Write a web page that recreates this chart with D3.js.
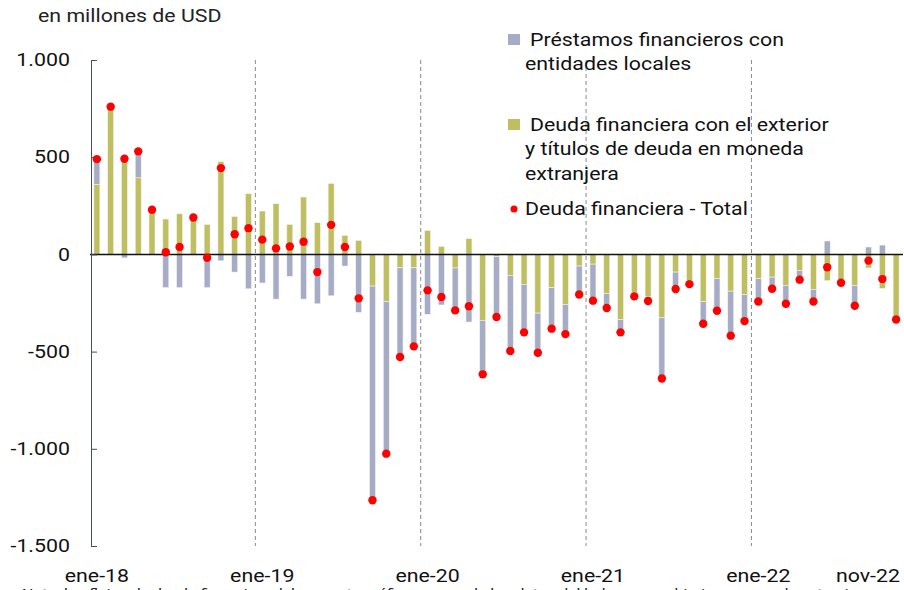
<!DOCTYPE html>
<html lang="es">
<head>
<meta charset="UTF-8">
<script src="https://d3js.org/d3.v7.min.js"></script>
<style>
  body { margin: 0; background: #fff; }
  svg { font-family: Roboto, "Noto Sans", sans-serif; }
</style>
<title>Deuda financiera</title>
</head>
<body>
<div id="chart"></div>
<script>
const width = 904, height = 590;

// months ene-18 .. nov-22
const monthNames = ["ene","feb","mar","abr","may","jun","jul","ago","sep","oct","nov","dic"];
const months = [];
for (const yy of ["18","19","20","21","22"]) {
  for (const m of monthNames) {
    if (yy === "22" && m === "dic") break;
    months.push(m + "-" + yy);
  }
}

// Préstamos financieros con entidades locales
const prestamos = [
  130, 0, -18, 135, 0, -171, -171, -3, -171, -33, -91, -177,
  -147, -230, -113, -230, -254, -213, -60, -298, -1102, -783, -459, -404,
  -308, -260, -218, -348, -278, -310, -389, -247, -204, -211, -153, -146,
  -188, -74, -65, -17, -24, -312, -87, -19, -114, -165, -229, -137,
  -117, -60, -95, -48, -62, 69, -16, -105, 38, 48, -5
];
// Deuda financiera con el exterior y títulos de deuda en moneda extranjera
const exterior = [
  360, 760, 510, 394, 230, 182, 209, 193, 154, 477, 195, 312,
  223, 261, 154, 295, 163, 365, 98, 72, -163, -242, -69, -69,
  123, 41, -70, 81, -339, -12, -108, -154, -302, -171, -257, -60,
  -50, -202, -336, -199, -216, -326, -91, -134, -243, -125, -189, -206,
  -125, -117, -159, -82, -180, -135, -130, -159, -70, -175, -330
];
// Deuda financiera - Total
const total = [
  490, 760, 492, 530, 230, 11, 38, 190, -17, 444, 104, 135,
  76, 31, 41, 65, -91, 152, 38, -226, -1265, -1025, -528, -473,
  -185, -219, -288, -267, -617, -322, -497, -401, -506, -382, -410, -206,
  -238, -276, -401, -216, -240, -638, -178, -153, -357, -290, -418, -343,
  -242, -177, -254, -130, -242, -66, -146, -264, -32, -127, -335
];

const yTicks = [1000, 500, 0, -500, -1000, -1500];
const xTickLabels = ["ene-18", "ene-19", "ene-20", "ene-21", "ene-22", "nov-22"];
const yearStarts = ["ene-19", "ene-20", "ene-21", "ene-22"];

const colPrestamos = "#a6abc6";
const colExterior = "#bfbf62";
const colTotal = "#ff0000";

// the source text is drawn a bit wide
const sx = 1.22;
function stretch(sel) {
  sel.each(function() {
    const t = d3.select(this);
    const tx = +t.attr("x") || 0, ty = +t.attr("y") || 0;
    t.attr("transform", `translate(${tx},${ty}) scale(${sx},1)`).attr("x", 0).attr("y", 0);
  });
}

const svg = d3.select("#chart").append("svg")
  .attr("width", width).attr("height", height);

const x = d3.scaleBand().domain(months).range([90, 903]).padding(0);
const y = d3.scaleLinear().domain([-1500, 1000]).range([546, 60]);

const locale = d3.formatLocale({decimal: ",", thousands: ".", grouping: [3], currency: ["", ""], minus: "-"});
const fmt = locale.format(",d");

// y axis title
svg.append("text").attr("x", 38).attr("y", 22)
  .style("font-size", "17.5px").attr("fill", "#222")
  .text("en millones de USD")
  .call(stretch);

// dashed year separators
svg.selectAll(".sep").data(yearStarts).enter().append("line")
  .attr("x1", d => x(d)).attr("x2", d => x(d))
  .attr("y1", y(1000)).attr("y2", y(-1500))
  .attr("stroke", "#8a8a8a").attr("stroke-width", 1)
  .attr("stroke-dasharray", "4,3");

// stacked bars
const rows = months.map((m, i) => ({month: m, exterior: exterior[i], prestamos: prestamos[i]}));
const series = d3.stack().keys(["exterior", "prestamos"])
  .offset(d3.stackOffsetDiverging)(rows);
const colors = {exterior: colExterior, prestamos: colPrestamos};
const barW = 6;

svg.selectAll(".series").data(series).enter().append("g")
  .attr("fill", d => colors[d.key])
  .selectAll("rect").data(d => d).enter().append("rect")
  .attr("x", d => x(d.data.month) + x.bandwidth() / 2 - barW / 2)
  .attr("width", barW)
  .attr("y", d => y(Math.max(d[0], d[1])))
  .attr("height", d => Math.abs(y(d[0]) - y(d[1])))
  .attr("stroke", "#f4f4ee").attr("stroke-width", 0.6);

// zero line
svg.append("line")
  .attr("x1", 90).attr("x2", 903)
  .attr("y1", y(0)).attr("y2", y(0))
  .attr("stroke", "#111").attr("stroke-width", 1.5);

// y axis
const yAxis = svg.append("g").attr("transform", "translate(91,0)")
  .call(d3.axisLeft(y).tickValues(yTicks).tickFormat(fmt)
    .tickSizeInner(-6).tickSizeOuter(0).tickPadding(21));
yAxis.select(".domain").attr("stroke", "#44505e");
yAxis.selectAll(".tick line").attr("stroke", "#44505e");
yAxis.selectAll("text").style("font-size", "17.5px").attr("fill", "#111")
  .style("font-family", "Roboto, sans-serif")
  .call(stretch);

// total dots
svg.selectAll(".dot").data(total).enter().append("circle")
  .attr("cx", (d, i) => x(months[i]) + x.bandwidth() / 2)
  .attr("cy", d => y(d))
  .attr("r", 4.2)
  .attr("fill", colTotal);

// x labels
svg.selectAll(".xlab").data(xTickLabels).enter().append("text")
  .attr("x", d => d === "nov-22" ? 900 : x(d) + x.bandwidth() / 2)
  .attr("y", 582)
  .attr("text-anchor", d => d === "nov-22" ? "end" : "middle")
  .style("font-size", "17.5px").attr("fill", "#111")
  .text(d => d)
  .call(stretch);

// note (cut off at bottom, as in the source)
svg.append("text").attr("x", 22).attr("y", 598)
  .style("font-size", "13px").attr("fill", "#222")
  .text("Nota: los flujos de deuda financiera del presente gráfico surgen de los datos del balance cambiario en moneda extranjera.")
  .call(stretch);

// legend
const legend = svg.append("g").style("font-size", "17.5px").attr("fill", "#111");
legend.append("rect").attr("x", 508).attr("y", 34).attr("width", 12).attr("height", 11).attr("fill", colPrestamos);
legend.append("rect").attr("x", 508).attr("y", 119).attr("width", 12).attr("height", 11).attr("fill", colExterior);
legend.append("circle").attr("cx", 514).attr("cy", 209).attr("r", 3.5).attr("fill", colTotal);
const legendLines = [
  {x: 530, y: 46, t: "Préstamos financieros con"},
  {x: 525, y: 70, t: "entidades locales"},
  {x: 530, y: 131, t: "Deuda financiera con el exterior"},
  {x: 525, y: 155, t: "y títulos de deuda en moneda"},
  {x: 525, y: 180, t: "extranjera"},
  {x: 525, y: 215, t: "Deuda financiera - Total"}
];
legend.selectAll(".lt").data(legendLines).enter().append("text")
  .attr("x", d => d.x).attr("y", d => d.y).text(d => d.t)
  .call(stretch);
</script>
</body>
</html>
